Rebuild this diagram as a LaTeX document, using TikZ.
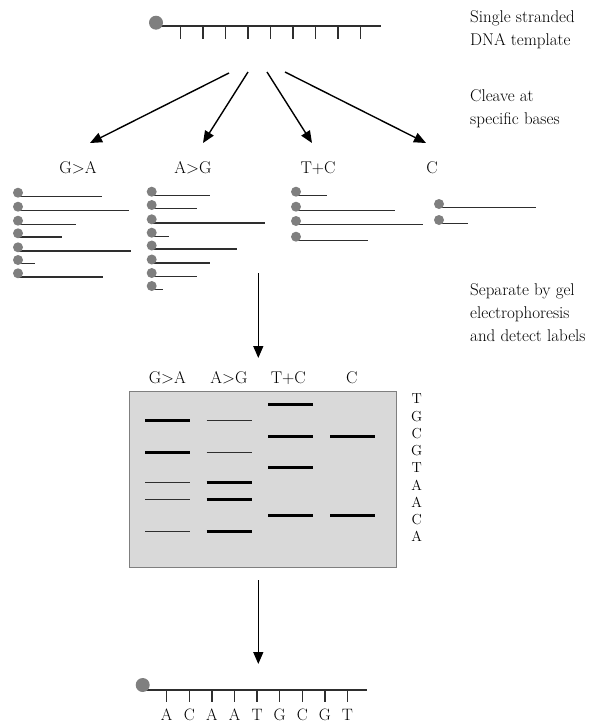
\documentclass[tikz,border=0pt]{standalone}
\usepackage{fontspec}
\usetikzlibrary{arrows.meta}
\definecolor{dotgray}{HTML}{7F7F7F}
\definecolor{linegray}{HTML}{2E2E2E}
\definecolor{gelfill}{HTML}{D9D9D9}
\begin{document}
\begin{tikzpicture}[x=1pt,y=-1pt,
  strand/.style={line width=1.5pt,draw=linegray},
  tickmark/.style={line width=1.5pt,draw=linegray},
  dot/.style={circle,fill=dotgray,inner sep=0pt,minimum size=#1},
  frag/.style={line width=1.4pt,draw=linegray},
  arr/.style={line width=1.4pt,draw=black,-{Triangle[length=12pt,width=10pt]}},
  lab/.style={font=\fontsize{17}{18}\selectfont},
  note/.style={font=\fontsize{17}{23}\selectfont,align=left,anchor=west,inner sep=0pt},
  base/.style={font=\fontsize{16.5}{16}\selectfont,inner sep=0pt},
  thickband/.style={line width=3pt,draw=black},
  thinband/.style={line width=1pt,draw=linegray}
]
\useasboundingbox (0,0) rectangle (594,723);

% ---- top template strand
\coordinate (topstart) at (156,26);
\coordinate (topend) at (381,26);
\draw[strand] (topstart) -- (topend);
\foreach \i in {0,...,8} \draw[tickmark] ({180.7+22.5*\i},26) -- ++(0,13);
\node[dot=14pt] (top5) at (156,22.7) {};

% ---- notes on the right
\node[note] (n1) at (470,30) {Single stranded\\DNA template};
\node[note] (n2) at (470,109) {Cleave at\\specific bases};
\node[note] (n3) at (470,313) {Separate by gel\\electrophoresis\\and detect labels};

% ---- cleavage arrows
\coordinate (s1) at (229,73);
\coordinate (s2) at (248,72);
\coordinate (s3) at (267,72);
\coordinate (s4) at (285,72);
\coordinate (e1) at (90,143);
\coordinate (e2) at (203,143);
\coordinate (e3) at (312,143);
\coordinate (e4) at (426,143);
\draw[arr] (s1) -- (e1);
\draw[arr] (s2) -- (e2);
\draw[arr] (s3) -- (e3);
\draw[arr] (s4) -- (e4);

\node[lab] (lGA) at (78,168) {G>A};
\node[lab] (lAG) at (193,168) {A>G};
\node[lab] (lTC) at (318,168) {T+C};
\node[lab] (lC)  at (432,168) {C};

% ---- fragments
\foreach \y/\e in {192.7/101.7, 206.7/129, 220.7/76, 233.3/62, 247.3/130.7, 260/34.7, 273.3/103.3} {
  \draw[frag] (18,\y+3.5) -- (\e,\y+3.5);
  \node[dot=10pt] at (18,\y) {};
}
\foreach \y/\e in {191.7/210, 205/196.7, 219.3/265, 232.7/169.3, 245.5/237.3, 259.5/210, 273/196.7, 286/163} {
  \draw[frag] (151.7,\y+3.5) -- (\e,\y+3.5);
  \node[dot=10pt] at (151.7,\y) {};
}
\foreach \y/\e in {191.7/326.7, 206.7/395, 221/422.7, 236.7/367.7} {
  \draw[frag] (296,\y+3.5) -- (\e,\y+3.5);
  \node[dot=10pt] at (296,\y) {};
}
\foreach \y/\e in {204/536, 220/467.7} {
  \draw[frag] (439,\y+3.5) -- (\e,\y+3.5);
  \node[dot=10pt] at (439,\y) {};
}

% ---- separation arrow
\coordinate (d1s) at (258.3,273);
\coordinate (d1e) at (258.3,358);
\draw[arr] (d1s) -- (d1e);

% ---- gel
\node[draw=dotgray,fill=gelfill,line width=1.2pt,minimum width=267.7pt,minimum height=175.6pt,inner sep=0pt] (gel) at (263,479.5) {};
\node[lab] (hGA) at (167.3,378) {G>A};
\node[lab] (hAG) at (229,378) {A>G};
\node[lab] (hTC) at (288.3,378) {T+C};
\node[lab] (hC)  at (351.7,378) {C};

% G>A lane 145-190, A>G 206.7-251.7, T+C 268.3-313.3, C 330-375
\draw[thickband] (268.3,404.3) -- (313.3,404.3);
\draw[thickband] (145,420) -- (190,420);
\draw[thinband] (206.7,420) -- (251.7,420);
\draw[thickband] (268.3,436) -- (313.3,436);
\draw[thickband] (330,436) -- (375,436);
\draw[thickband] (145,452) -- (190,452);
\draw[thinband] (206.7,452) -- (251.7,452);
\draw[thickband] (268.3,467.7) -- (313.3,467.7);
\draw[thinband] (145,482.7) -- (190,482.7);
\draw[thickband] (206.7,482.7) -- (251.7,482.7);
\draw[thinband] (145,499.3) -- (190,499.3);
\draw[thickband] (206.7,499.3) -- (251.7,499.3);
\draw[thickband] (268.3,515.3) -- (313.3,515.3);
\draw[thickband] (330,515.3) -- (375,515.3);
\draw[thinband] (145,531.3) -- (190,531.3);
\draw[thickband] (206.7,531.3) -- (251.7,531.3);

% read sequence on right
\foreach \t [count=\k from 0] in {T,G,C,G,T,A,A,C,A}
  \node[font=\fontsize{14.5}{14}\selectfont,inner sep=0pt] (r\k) at (416.7,{399+17.2*\k}) {\t};

% ---- readout arrow
\coordinate (d2s) at (258.3,580);
\coordinate (d2e) at (258.3,664);
\draw[arr] (d2s) -- (d2e);

% ---- bottom read strand
\coordinate (botstart) at (142.7,690);
\coordinate (botend) at (367,690);
\draw[strand] (botstart) -- (botend);
\foreach \t [count=\k from 0] in {A,C,A,A,T,G,C,G,T} {
  \draw[tickmark] ({166.7+22.6*\k},690) -- ++(0,11.7);
  \node[base] (b\k) at ({166.7+22.6*\k},714.5) {\t};
}
\node[dot=14pt] (bot5) at (142.7,685) {};
\end{tikzpicture}
\end{document}
